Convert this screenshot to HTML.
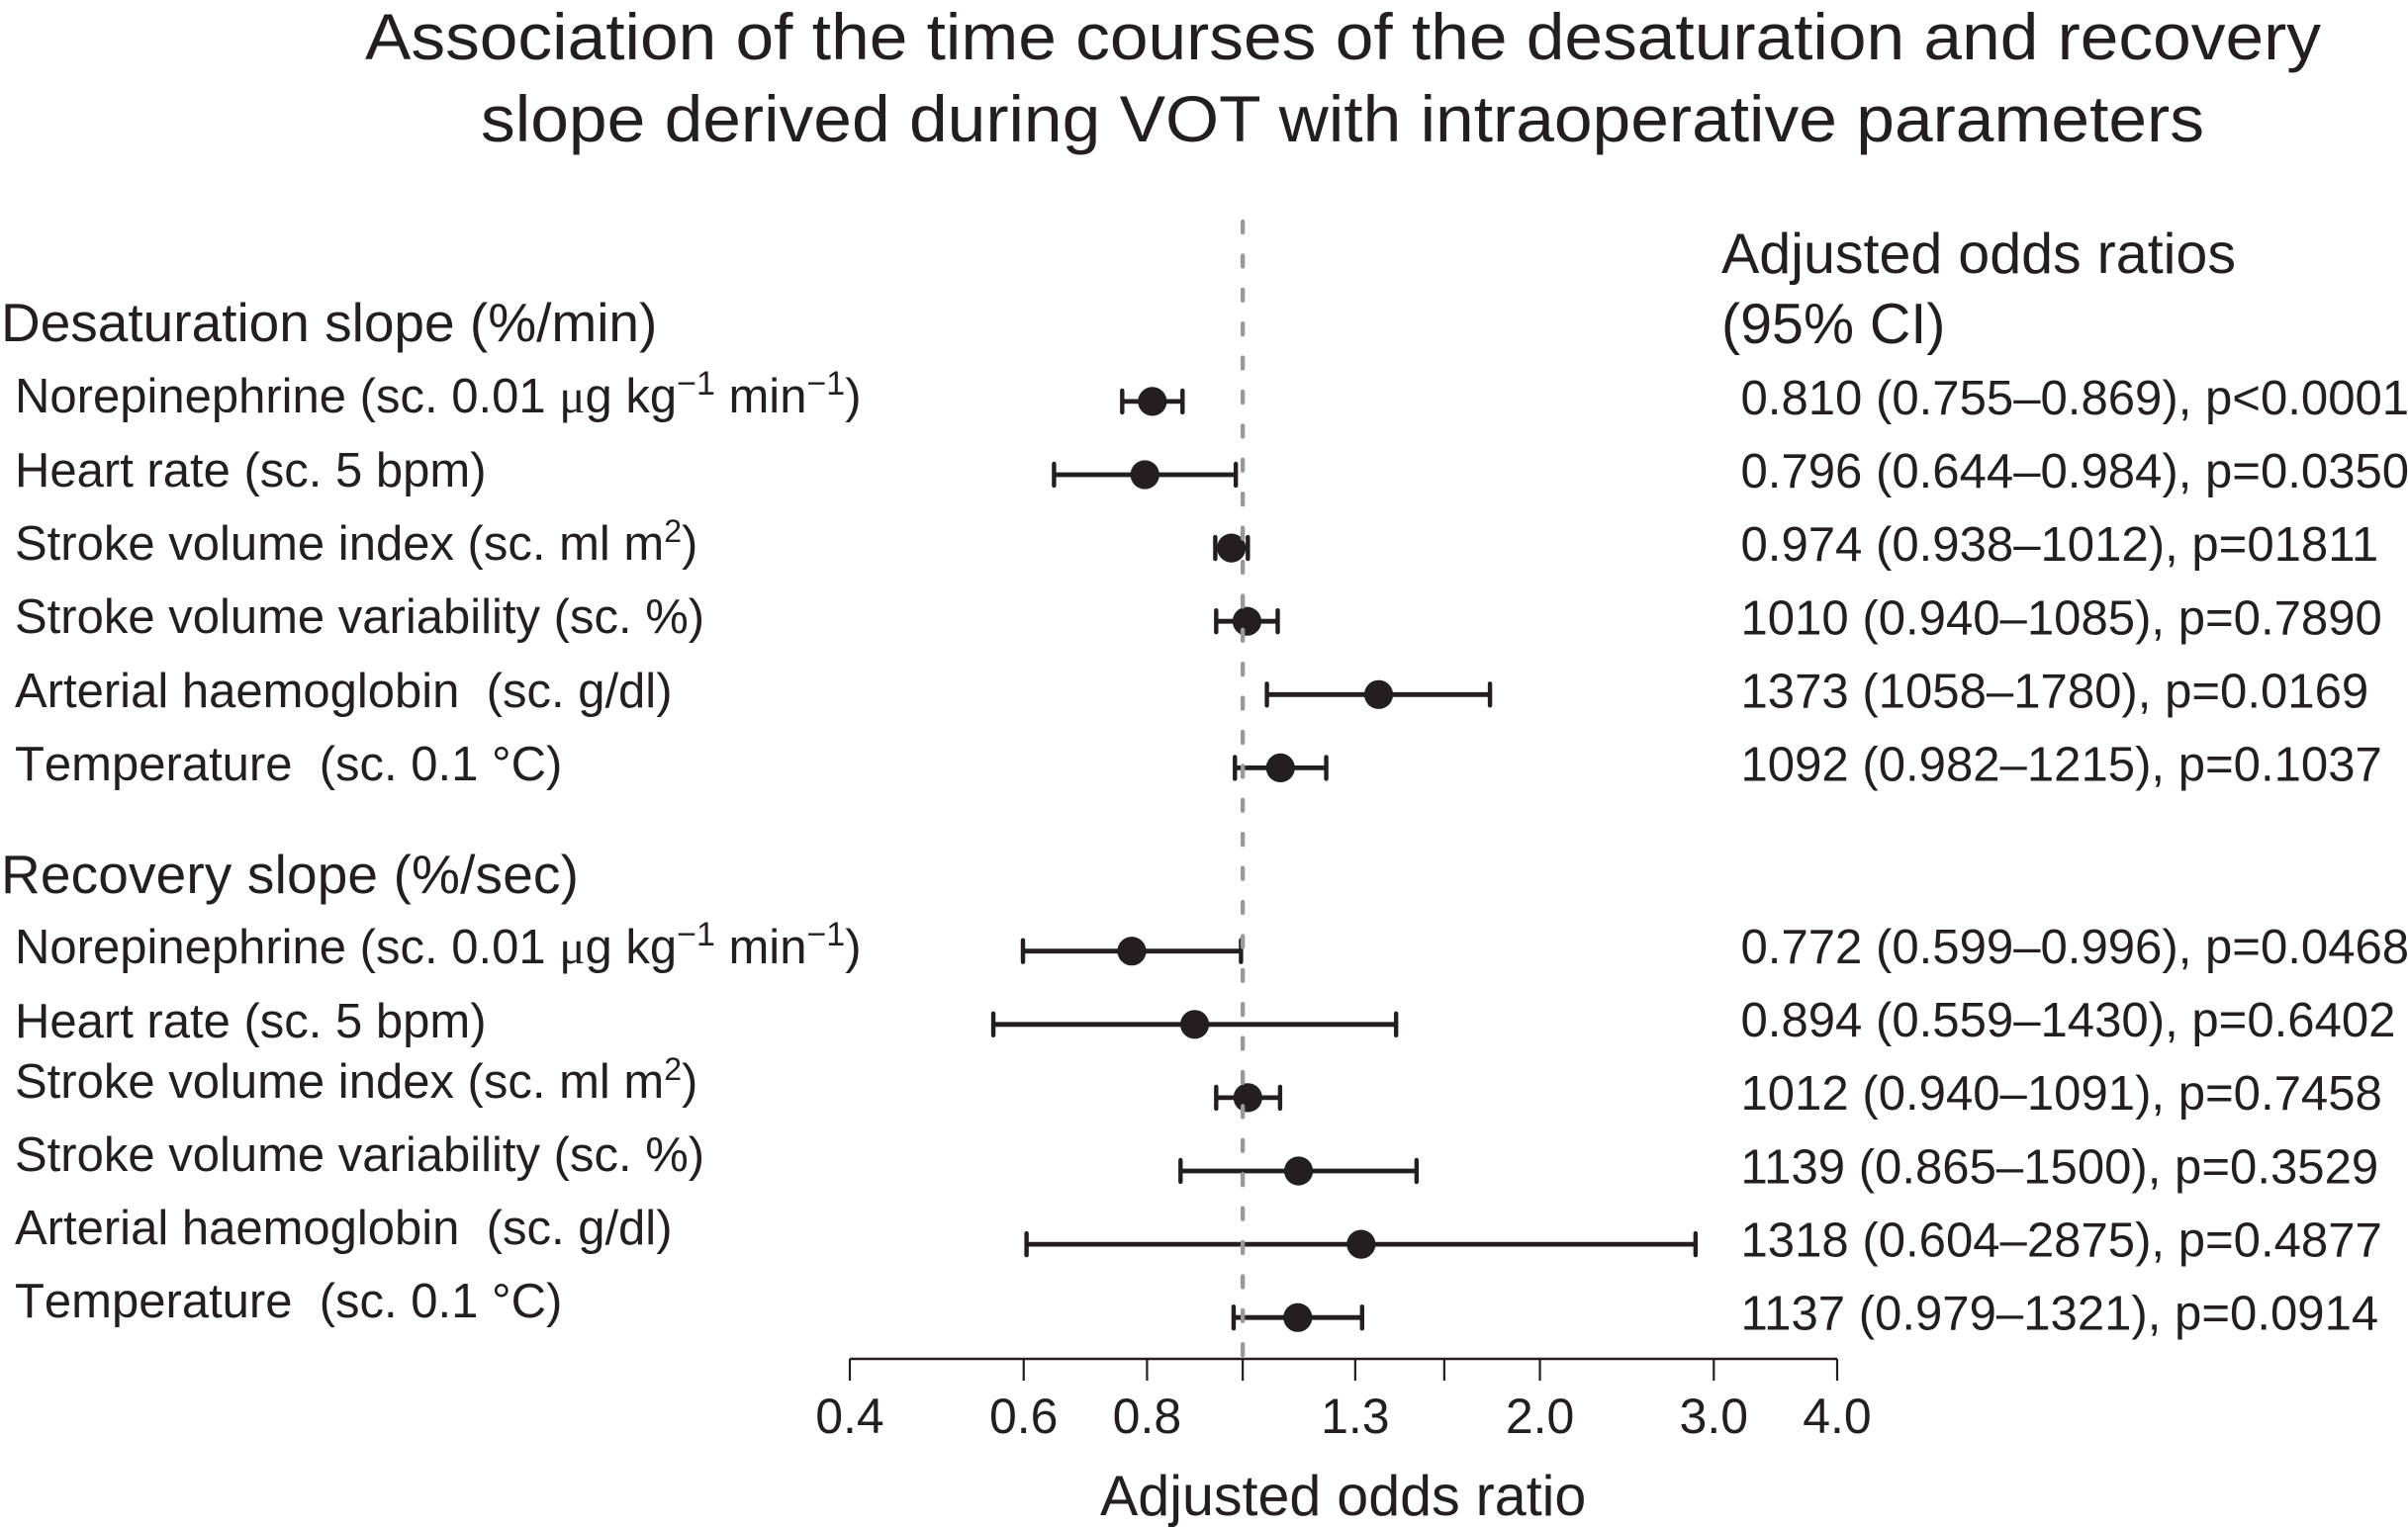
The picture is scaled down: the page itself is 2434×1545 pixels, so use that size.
<!DOCTYPE html>
<html lang="en">
<head>
<meta charset="utf-8">
<title>Forest plot of adjusted odds ratios</title>
<style>
html,body{margin:0;padding:0;background:#fff;width:2434px;height:1545px;overflow:hidden}
svg{display:block}
text{font-family:"Liberation Sans",Arial,sans-serif;fill:#231f20}
.row{font-size:49px}
.head{font-size:55px}
.val{font-size:49.1px}
.tick{font-size:50px}
.mu{font-family:"Liberation Serif",serif}
.nokern{font-kerning:none}
</style>
</head>
<body>
<svg id="chart" xmlns="http://www.w3.org/2000/svg" width="2434" height="1545" viewBox="0 0 2434 1545">
  <text x="369" y="60" font-size="66" textLength="1977" lengthAdjust="spacingAndGlyphs">Association of the time courses of the desaturation and recovery</text>
  <text x="486" y="143" font-size="66" textLength="1742" lengthAdjust="spacingAndGlyphs">slope derived during VOT with intraoperative parameters</text>

  <text x="1740" y="276" font-size="57.4">Adjusted odds ratios</text>
  <text x="1740" y="347" font-size="57.4">(95% CI)</text>

  <text class="head" x="1" y="345">Desaturation slope (%/min)</text>
  <text class="row" x="15" y="417">Norepinephrine (sc. 0.01 <tspan class="mu">μ</tspan>g kg<tspan dy="-18" font-size="34">−1</tspan><tspan dy="18"> min</tspan><tspan dy="-18" font-size="34">−1</tspan><tspan dy="18">)</tspan></text>
  <text class="row" x="15" y="492">Heart rate (sc. 5 bpm)</text>
  <text class="row" x="15" y="566">Stroke volume index (sc. ml m<tspan dy="-18" font-size="32">2</tspan><tspan dy="18">)</tspan></text>
  <text class="row" x="15" y="640">Stroke volume variability (sc. %)</text>
  <text class="row" x="15" y="715" xml:space="preserve">Arterial haemoglobin  (sc. g/dl)</text>
  <text class="row nokern" x="15" y="789" xml:space="preserve">Temperature  (sc. 0.1 °C)</text>

  <text class="head" x="1" y="903" letter-spacing="0.15">Recovery slope (%/sec)</text>
  <text class="row" x="15" y="974">Norepinephrine (sc. 0.01 <tspan class="mu">μ</tspan>g kg<tspan dy="-18" font-size="34">−1</tspan><tspan dy="18"> min</tspan><tspan dy="-18" font-size="34">−1</tspan><tspan dy="18">)</tspan></text>
  <text class="row" x="15" y="1049">Heart rate (sc. 5 bpm)</text>
  <text class="row" x="15" y="1110">Stroke volume index (sc. ml m<tspan dy="-18" font-size="32">2</tspan><tspan dy="18">)</tspan></text>
  <text class="row" x="15" y="1184">Stroke volume variability (sc. %)</text>
  <text class="row" x="15" y="1258" xml:space="preserve">Arterial haemoglobin  (sc. g/dl)</text>
  <text class="row nokern" x="15" y="1332" xml:space="preserve">Temperature  (sc. 0.1 °C)</text>

  <text x="1112" y="1532" font-size="57.4">Adjusted odds ratio</text>
</svg>
<script>
const categories = ['norepinephrine', 'heart-rate', 'stroke-volume-index', 'stroke-volume-variability', 'arterial-haemoglobin', 'temperature'];
const desatOdds = [0.810, 0.796, 0.974, 1.010, 1.373, 1.092];
const desatLow = [0.755, 0.644, 0.938, 0.940, 1.058, 0.982];
const desatHigh = [0.869, 0.984, 1.012, 1.085, 1.780, 1.215];
const recoveryOdds = [0.772, 0.894, 1.012, 1.139, 1.318, 1.137];
const recoveryLow = [0.599, 0.559, 0.940, 0.865, 0.604, 0.979];
const recoveryHigh = [0.996, 1.430, 1.091, 1.500, 2.875, 1.321];
const desatPrinted = [
  '0.810 (0.755–0.869), p<0.0001',
  '0.796 (0.644–0.984), p=0.0350',
  '0.974 (0.938–1012), p=01811',
  '1010 (0.940–1085), p=0.7890',
  '1373 (1058–1780), p=0.0169',
  '1092 (0.982–1215), p=0.1037'
];
const recoveryPrinted = [
  '0.772 (0.599–0.996), p=0.0468',
  '0.894 (0.559–1430), p=0.6402',
  '1012 (0.940–1091), p=0.7458',
  '1139 (0.865–1500), p=0.3529',
  '1318 (0.604–2875), p=0.4877',
  '1137 (0.979–1321), p=0.0914'
];
const tickValues = [0.4, 0.6, 0.8, 1.0, 1.3, 1.6, 2.0, 3.0, 4.0];
const tickLabels = ['0.4', '0.6', '0.8', '', '1.3', '', '2.0', '3.0', '4.0'];
const referenceValue = 1.0;

const NS = 'http://www.w3.org/2000/svg';
const svg = document.getElementById('chart');
const AXIS_LEFT = 859, AXIS_RIGHT = 1857, AXIS_MIN = 0.4, AXIS_MAX = 4.0;
const AXIS_Y = 1374, TICK_LEN = 22, TICK_BASE = 1449;
const INK = '#231f20';

function xScale(v) {
  return AXIS_LEFT + (AXIS_RIGHT - AXIS_LEFT) * Math.log10(v / AXIS_MIN) / Math.log10(AXIS_MAX / AXIS_MIN);
}
function rowY(firstY, i) {
  return firstY + i * 74.1;
}
function make(tag, attrs) {
  const el = document.createElementNS(NS, tag);
  for (const k in attrs) el.setAttribute(k, attrs[k]);
  svg.appendChild(el);
  return el;
}

// axis
const axisLine = make('line', {x1: AXIS_LEFT, x2: AXIS_RIGHT, y1: AXIS_Y, y2: AXIS_Y, stroke: INK, 'stroke-width': 2.6});


tickValues.forEach(function (v, i) {
  const t = make('line', {x1: xScale(v), x2: xScale(v), y1: AXIS_Y, y2: AXIS_Y + TICK_LEN, stroke: INK, 'stroke-width': 2.2});
  
  
  if (tickLabels[i]) {
    const l = make('text', {x: xScale(v), y: TICK_BASE, 'text-anchor': 'middle', class: 'tick'});
    l.textContent = tickLabels[i];
    
    
  }
});

// forest rows
function drawGroup(prefix, odds, low, high, printed, firstY, printedFirstY) {
  categories.forEach(function (name, i) {
    const y = rowY(firstY, i);
    const x0 = xScale(low[i]), x1 = xScale(high[i]), xm = xScale(odds[i]);
    const ci = make('line', {x1: x0, x2: x1, y1: y, y2: y, stroke: INK, 'stroke-width': 4.8});
    
    
    const capL = make('line', {x1: x0, x2: x0, y1: y - 11, y2: y + 11, stroke: INK, 'stroke-width': 4.4, 'stroke-linecap': 'round'});
    
    
    const capH = make('line', {x1: x1, x2: x1, y1: y - 11, y2: y + 11, stroke: INK, 'stroke-width': 4.4, 'stroke-linecap': 'round'});
    
    
    const dot = make('circle', {cx: xm, cy: y, r: 14.6, fill: INK});
    
    
    const txt = make('text', {x: 1759.5, y: rowY(printedFirstY, i), class: 'val'});
    txt.textContent = printed[i];
    
    
  });
}
drawGroup('desat', desatOdds, desatLow, desatHigh, desatPrinted, 405.9, 419);
drawGroup('recovery', recoveryOdds, recoveryLow, recoveryHigh, recoveryPrinted, 961.7, 974);

// reference line, drawn over the markers
const refLine = make('line', {x1: xScale(referenceValue), x2: xScale(referenceValue), y1: 224, y2: 1374, stroke: '#999999', 'stroke-width': 4.4, 'stroke-linecap': 'round', 'stroke-dasharray': '11 23.4'});


</script>
</body>
</html>
